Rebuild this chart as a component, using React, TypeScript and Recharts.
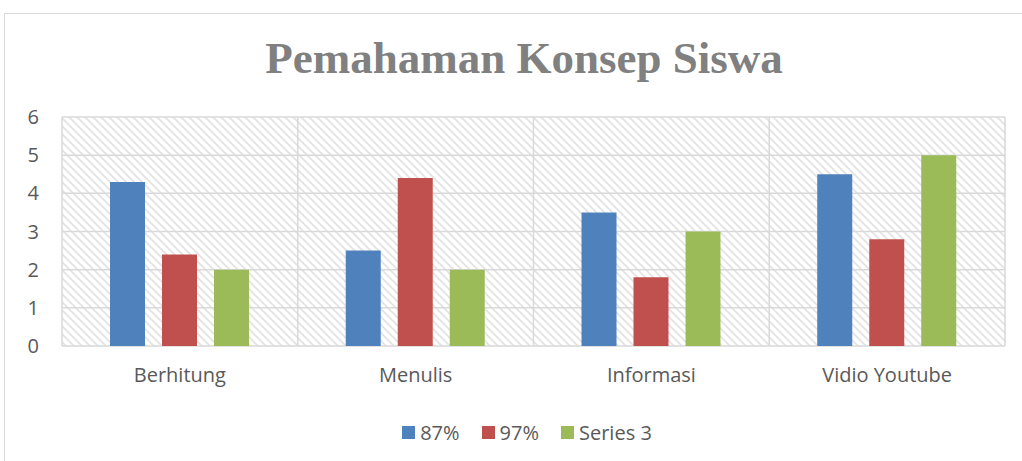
import { BarChart, Bar, XAxis, YAxis, CartesianGrid } from "recharts";

const categories = ["Berhitung", "Menulis", "Informasi", "Vidio Youtube"];
const series87 = [4.3, 2.5, 3.5, 4.5];
const series97 = [2.4, 4.4, 1.8, 2.8];
const series3 = [2, 2, 3, 5];
const yTicks = [0, 1, 2, 3, 4, 5, 6];

const seriesInfo = [
  { key: "s1", name: "87%", color: "#4F81BD" },
  { key: "s2", name: "97%", color: "#C0504D" },
  { key: "s3", name: "Series 3", color: "#9BBB59" },
];

const data = categories.map((c, i) => ({
  name: c,
  s1: series87[i],
  s2: series97[i],
  s3: series3[i],
}));

const font = "'Open Sans', 'Noto Sans', sans-serif";

function LegendRow() {
  return (
    <div
      style={{
        position: "absolute",
        top: 419,
        left: 16,
        width: 1022,
        display: "flex",
        justifyContent: "center",
        fontFamily: font,
        fontSize: 20,
        color: "#595959",
      }}
    >
      {seriesInfo.map((s) => (
        <div key={s.key} style={{ display: "flex", alignItems: "center", margin: "0 11px" }}>
          <span style={{ width: 13, height: 13, background: s.color, marginRight: 5, display: "inline-block" }} />
          <span>{s.name}</span>
        </div>
      ))}
    </div>
  );
}

export default function App() {
  return (
    <div style={{ position: "absolute", left: 0, top: 0, width: 1022, height: 461, overflow: "hidden", background: "#fff" }}>
      <div
        style={{
          position: "absolute",
          left: 4,
          top: 13,
          width: 1040,
          height: 470,
          border: "1px solid #d9d9d9",
        }}
      />
      <div
        style={{
          position: "absolute",
          top: 32,
          left: 13,
          width: 1022,
          textAlign: "center",
          fontFamily: "'Liberation Serif', serif",
          fontWeight: "bold",
          fontSize: 45,
          color: "#808080",
        }}
      >
        Pemahaman Konsep Siswa
      </div>
      <div style={{ position: "absolute", left: 0, top: 0 }}>
        <BarChart
          width={1022}
          height={461}
          data={data}
          margin={{ top: 117, right: 17, bottom: 85, left: 0 }}
          barCategoryGap={48}
          barGap={17}
        >
          <defs>
            <pattern id="hatch" width="8" height="8" patternUnits="userSpaceOnUse">
              <rect width="8" height="8" fill="#ffffff" />
              <path d="M-2,-2 L10,10 M-2,6 L2,10 M6,-2 L10,2" stroke="#e3e3e3" strokeWidth={1.8} />
            </pattern>
          </defs>
          <CartesianGrid
            fill="url(#hatch)"
            stroke="#d9d9d9"
            strokeWidth={1.5}
            verticalCoordinatesGenerator={({ offset }: any) =>
              categories.map((_, i) => offset.left + (i * offset.width) / categories.length).concat([offset.left + offset.width])
            }
          />
          <XAxis
            dataKey="name"
            height={30}
            axisLine={false}
            tickLine={false}
            tickSize={0}
            tickMargin={22}
            tick={{ fill: "#595959", fontSize: 20, fontFamily: font }}
          />
          <YAxis
            width={62}
            domain={[0, 6]}
            ticks={yTicks}
            axisLine={false}
            tickLine={false}
            tickSize={0}
            tickMargin={23}
            tick={{ fill: "#595959", fontSize: 20, fontFamily: font }}
          />
          {seriesInfo.map((s) => (
            <Bar key={s.key} dataKey={s.key} name={s.name} fill={s.color} isAnimationActive={false} />
          ))}
        </BarChart>
      </div>
      <LegendRow />
    </div>
  );
}
